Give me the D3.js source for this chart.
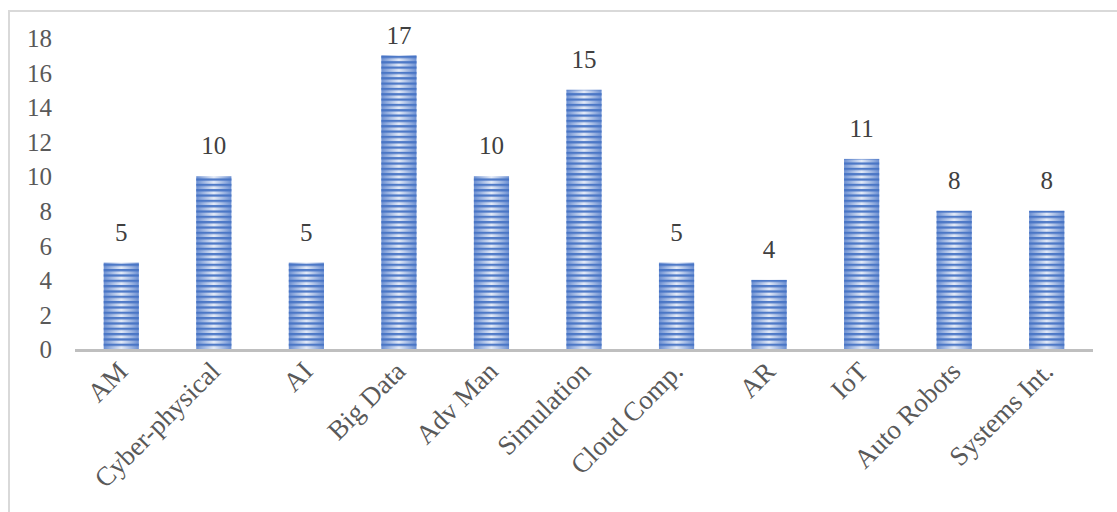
<!DOCTYPE html>
<html><head><meta charset="utf-8">
<script src="https://cdn.jsdelivr.net/npm/d3@7"></script>
<style>body{margin:0;background:#fff}svg{display:block}</style>
</head><body><svg id="c" width="1117" height="512"></svg>
<script>
const categories = ["AM","Cyber-physical","AI","Big Data","Adv Man","Simulation","Cloud Comp.","AR","IoT","Auto Robots","Systems Int."];
const values = [5,10,5,17,10,15,5,4,11,8,8];
const yTicks = [0,2,4,6,8,10,12,14,16,18];

const svg = d3.select("#c");
const m = {left:75, right:1093, top:38, bottom:349};
const font = "'Liberation Serif','DejaVu Serif',serif";

// chart border
svg.append("rect").attr("x",9).attr("y",11).attr("width",1200).attr("height",600)
  .attr("fill","none").attr("stroke","#d9d9d9").attr("stroke-width",2);

const defs = svg.append("defs");
const g = defs.append("linearGradient").attr("id","hg").attr("x1","0").attr("x2","1").attr("y1","0").attr("y2","0");
g.append("stop").attr("offset","0").attr("stop-color","#6b8fd2");
g.append("stop").attr("offset","0.5").attr("stop-color","#e3eaf7");
g.append("stop").attr("offset","1").attr("stop-color","#6b8fd2");
const p = defs.append("pattern").attr("id","stripes").attr("patternUnits","userSpaceOnUse")
  .attr("x",0).attr("y",349).attr("width",10).attr("height",5.33);
p.append("rect").attr("x",0).attr("y",0).attr("width",10).attr("height",2.3).attr("fill","#4472c4").attr("opacity",0.92);

const x = d3.scaleBand().domain(categories).range([m.left, m.right]).paddingInner(0.62).paddingOuter(0.31);
const y = d3.scaleLinear().domain([0,18]).range([m.bottom, m.top]);

const bars = svg.append("g");
bars.selectAll("rect.b").data(values).join("rect").attr("class","b")
  .attr("x",(d,i)=>x(categories[i])).attr("width",x.bandwidth())
  .attr("y",d=>y(d)).attr("height",d=>y(0)-y(d)).attr("fill","url(#hg)");
bars.selectAll("rect.s").data(values).join("rect").attr("class","s")
  .attr("x",(d,i)=>x(categories[i])).attr("width",x.bandwidth())
  .attr("y",d=>y(d)).attr("height",d=>y(0)-y(d)).attr("fill","url(#stripes)");

// value labels
svg.append("g").selectAll("text").data(values).join("text")
  .attr("x",(d,i)=>x(categories[i])+x.bandwidth()/2).attr("y",d=>Math.max(y(d)-22, 44))
  .attr("text-anchor","middle").attr("font-family",font).attr("font-size",25)
  .attr("fill","#404040").text(d=>d);

// y axis labels
const ya = svg.append("g").attr("transform",`translate(${52},0)`)
  .call(d3.axisLeft(y).tickValues(yTicks).tickSize(0).tickPadding(0));
ya.select(".domain").remove();
ya.selectAll("text").attr("font-family",font).attr("font-size",25).attr("fill","#595959").attr("dy","0.35em");

// x axis
const xa = svg.append("g").attr("transform",`translate(0,${m.bottom})`)
  .call(d3.axisBottom(x).tickSize(0).tickPadding(0));
xa.select(".domain").attr("stroke","#bfbfbf").attr("stroke-width",3).attr("d",`M${m.left},1.5H${m.right}`);
xa.selectAll("text").attr("font-family",font).attr("font-size",27).attr("fill","#595959")
  .attr("text-anchor","end").attr("dy","0")
  .attr("transform","translate(8,24) rotate(-45)");
</script></body></html>
